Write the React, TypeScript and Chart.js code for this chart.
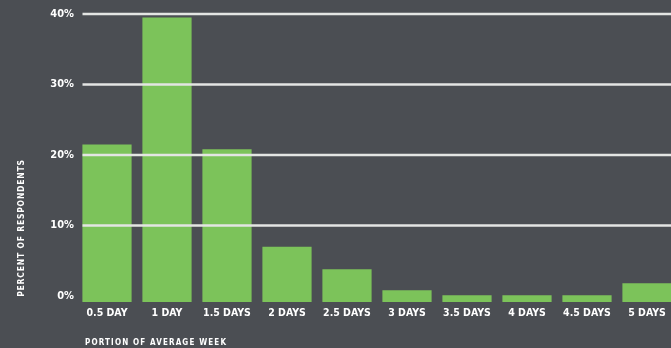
import React, { useEffect, useRef } from "react";
import { Chart, registerables } from "chart.js";

Chart.register(...registerables);

const categories = ["0.5 DAY", "1 DAY", "1.5 DAYS", "2 DAYS", "2.5 DAYS", "3 DAYS", "3.5 DAYS", "4 DAYS", "4.5 DAYS", "5 DAYS"];
const percentValues = [21.5, 39.5, 20.8, 7.0, 3.8, 0.8, 0.1, 0.1, 0.1, 1.8];
const tickValues = [0, 10, 20, 30, 40];
const gridValues = [10, 20, 30, 40];
const yTitle = "PERCENT OF RESPONDENTS";
const xTitle = "PORTION OF AVERAGE WEEK";

const FONT = "'Liberation Sans Narrow', 'DejaVu Sans Condensed', 'Roboto Condensed', 'Liberation Sans', sans-serif";
const BG = "#4b4e53";
const GREEN = "#7cc35a";
const GRID = "#e3e5e3";

const overlayPlugin = {
  id: "overlay",
  afterDatasetsDraw(chart: any) {
    const ctx = chart.ctx;
    const y = chart.scales.y;
    const area = chart.chartArea;
    ctx.save();
    ctx.strokeStyle = GRID;
    ctx.lineWidth = 2.5;
    gridValues.forEach((v) => {
      const py = y.getPixelForValue(v);
      ctx.beginPath();
      ctx.moveTo(area.left + 5.5, py);
      ctx.lineTo(chart.width, py);
      ctx.stroke();
    });
    ctx.restore();
  },
  afterDraw(chart: any) {
    const ctx = chart.ctx;
    ctx.save();
    ctx.fillStyle = "#ffffff";
    ctx.font = `bold 8.5px ${FONT}`;
    (ctx as any).letterSpacing = "0.8px";
    ctx.textAlign = "center";
    ctx.textBaseline = "middle";
    ctx.translate(22, 228);
    ctx.rotate(-Math.PI / 2);
    ctx.fillText(yTitle, 0, 0);
    ctx.restore();

    ctx.save();
    ctx.fillStyle = "#ffffff";
    ctx.font = `bold 8px ${FONT}`;
    (ctx as any).letterSpacing = "1.15px";
    ctx.textAlign = "left";
    ctx.textBaseline = "middle";
    ctx.fillText(xTitle, 85, 343);
    ctx.restore();
  },
};

export default function App() {
  const canvasRef = useRef<HTMLCanvasElement | null>(null);

  useEffect(() => {
    if (!canvasRef.current) return;
    const chart = new Chart(canvasRef.current, {
      type: "bar",
      data: {
        labels: categories,
        datasets: [
          {
            data: percentValues,
            backgroundColor: GREEN,
            borderWidth: 0,
            base: -0.85,
            barPercentage: 0.82,
            categoryPercentage: 1,
          } as any,
        ],
      },
      options: {
        responsive: false,
        maintainAspectRatio: false,
        animation: false,
        layout: { padding: { top: 14, right: 13, left: 0, bottom: 0 } },
        plugins: { legend: { display: false }, tooltip: { enabled: false } },
        scales: {
          x: {
            grid: { display: false, drawTicks: false },
            border: { display: false },
            ticks: {
              color: "#ffffff",
              font: { family: FONT, size: 10.5, weight: "bold" },
              padding: 5,
              maxRotation: 0,
              autoSkip: false,
            },
            afterFit(scale: any) {
              scale.height = 46;
            },
          },
          y: {
            min: -0.85,
            max: 40,
            grid: { display: false, drawTicks: false },
            border: { display: false },
            ticks: {
              color: "#ffffff",
              font: { family: FONT, size: 11, weight: "bold" },
              padding: 3,
              callback: (v: any) => `${v}%`,
            },
            afterBuildTicks(scale: any) {
              scale.ticks = tickValues.map((v) => ({ value: v }));
            },
            afterFit(scale: any) {
              scale.width = 77;
            },
          },
        },
      },
      plugins: [overlayPlugin],
    });
    return () => chart.destroy();
  }, []);

  return (
    <div
      style={{
        position: "fixed",
        left: 0,
        top: 0,
        width: 671,
        height: 348,
        overflow: "hidden",
        background: BG,
      }}
    >
      <canvas ref={canvasRef} width={690} height={348} style={{ display: "block", width: 690, height: 348 }} />
    </div>
  );
}
